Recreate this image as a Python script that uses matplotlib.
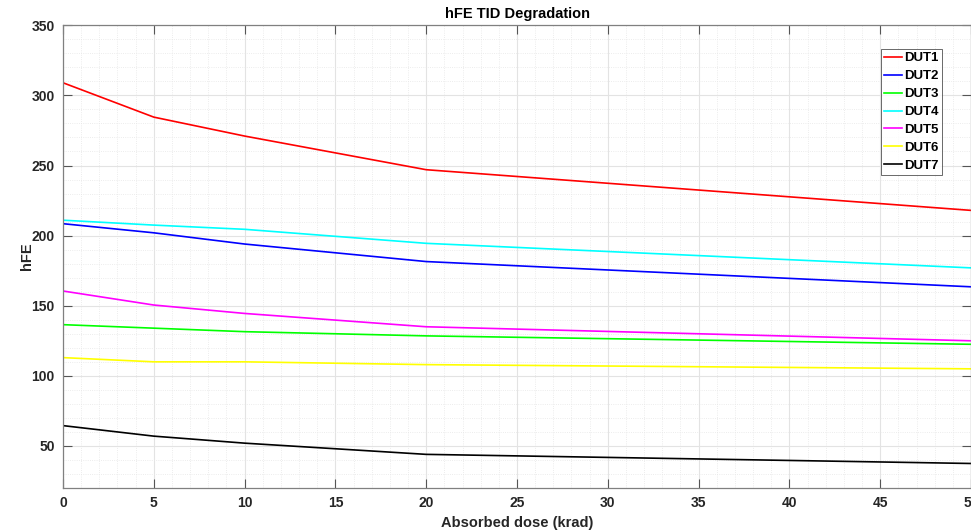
import matplotlib
matplotlib.use("Agg")
import matplotlib.pyplot as plt
from matplotlib.ticker import MultipleLocator

# absorbed dose steps (krad)
dose = [0, 5, 10, 20, 50]

# hFE readings per device
dut1 = [309, 284.5, 271, 247, 218]
dut2 = [208.5, 202, 194, 181.5, 163.5]
dut3 = [136.5, 134, 131.5, 128.5, 122.5]
dut4 = [211, 207.5, 204.5, 194.5, 177]
dut5 = [160.5, 150.5, 144.5, 135, 125]
dut6 = [113, 110, 110, 108, 105]
dut7 = [64.5, 57, 52, 44, 37.5]

series = [dut1, dut2, dut3, dut4, dut5, dut6, dut7]
labels = ["DUT1", "DUT2", "DUT3", "DUT4", "DUT5", "DUT6", "DUT7"]
colors = ["#ff0000", "#0000ff", "#00ff00", "#00ffff", "#ff00ff", "#ffff00", "#000000"]

plt.rcParams["font.family"] = ["Liberation Sans", "DejaVu Sans"]
plt.rcParams["font.weight"] = "bold"

fig = plt.figure(figsize=(9.71, 5.30), dpi=100)
ax = fig.add_axes([0.0649, 0.0792, 0.9351, 0.8731])

for y, lab, c in zip(series, labels, colors):
    ax.plot(dose, y, color=c, linewidth=1.2, label=lab)

ax.set_xlim(0, 50)
ax.set_ylim(20, 350)
ax.xaxis.set_major_locator(MultipleLocator(5))
ax.xaxis.set_minor_locator(MultipleLocator(1))
ax.yaxis.set_major_locator(MultipleLocator(50))
ax.yaxis.set_minor_locator(MultipleLocator(10))

ax.grid(True, which="major", color="#e3e3e3", linewidth=0.8)
ax.grid(True, which="minor", color="#e6e6e6", linewidth=0.6, linestyle=":")
ax.set_axisbelow(True)

ax.tick_params(which="major", direction="in", length=6.5, width=0.8,
               top=True, right=True, color="#555555", labelcolor="#262626",
               labelsize=10, pad=6)
ax.tick_params(which="minor", length=0, top=True, right=True)
for lbl in ax.get_xticklabels() + ax.get_yticklabels():
    lbl.set_fontweight("bold")
for s in ax.spines.values():
    s.set_color("#808080")
    s.set_linewidth(0.9)

ax.set_title("hFE TID Degradation", fontsize=10.5, fontweight="bold", color="#000000", pad=5)
ax.set_xlabel("Absorbed dose (krad)", fontsize=10.5, fontweight="bold", color="#262626", labelpad=4)
ax.set_ylabel("hFE", fontsize=10.5, fontweight="bold", color="#262626", labelpad=-2)

leg = ax.legend(loc="upper right", bbox_to_anchor=(0.968, 0.949), fontsize=9.5,
                frameon=True, fancybox=False, handlelength=1.3, handletextpad=0.2,
                labelspacing=0.43, borderpad=0.25, borderaxespad=0)
leg.get_frame().set_edgecolor("#262626")
leg.get_frame().set_linewidth(0.6)
for t in leg.get_texts():
    t.set_fontweight("bold")

fig.savefig("out.png", dpi=100)
